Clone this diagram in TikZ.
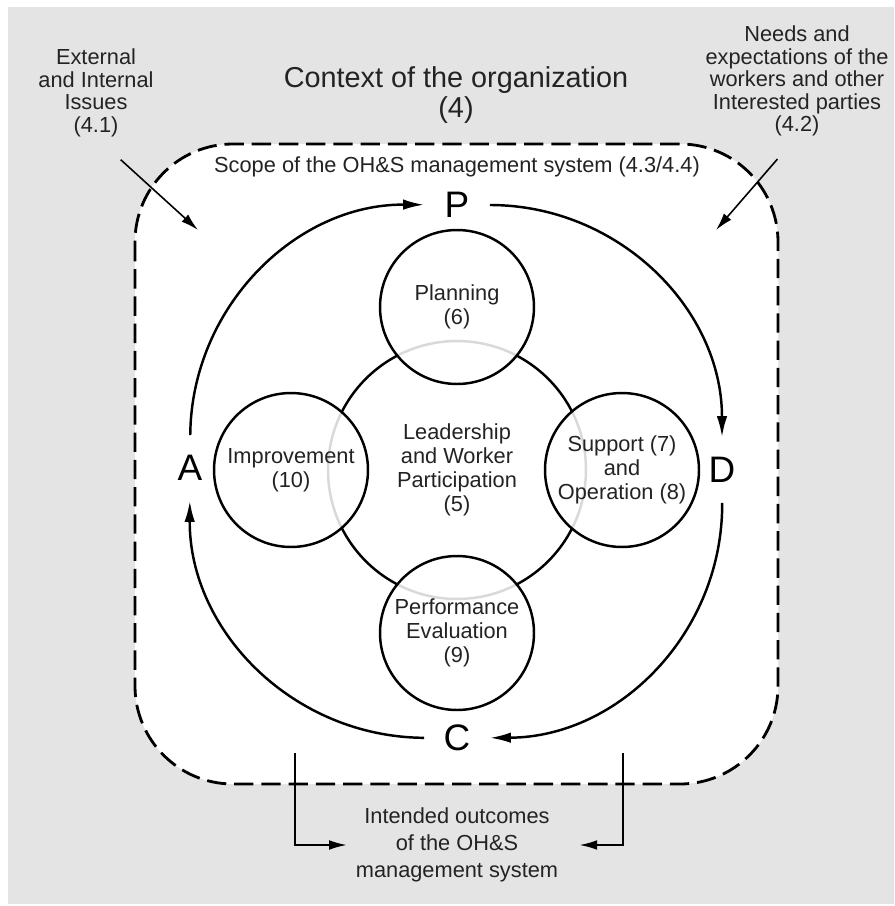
\documentclass[tikz,border=0pt]{standalone}
\usepackage{fontspec}
\setmainfont{Liberation Sans}
\usetikzlibrary{arrows.meta}
\definecolor{bggray}{RGB}{228,228,228}
\definecolor{ink}{RGB}{35,35,35}

\begin{document}
\begin{tikzpicture}[x=0.02cm,y=-0.02cm,
  txt/.style={align=center,text=ink,inner sep=0pt,font=\fontsize{12.4}{12.8}\selectfont},
  ring/.style={circle,draw,line width=1.4pt,align=center,text=ink,inner sep=0pt,font=\fontsize{12.4}{13.6}\selectfont},
  sat/.style={ring,fill=white,fill opacity=0.85,text opacity=1,minimum size=3.08cm},
  pdca/.style={font=\fontsize{21}{22}\selectfont,minimum width=1.3cm,minimum height=1.3cm,inner sep=0pt},
  cyc/.style={line width=1.4pt,-{Latex[length=12pt,width=6pt]},bend left=45},
  feed/.style={line width=0.9pt,-{Latex[length=10pt,width=5.5pt]}}]
\useasboundingbox (0,0) rectangle (894,906);
\fill[white] (0,0) rectangle (894,906);
\fill[bggray] (8,7) rectangle (894,904);
% scope of the system
\draw[line width=1.6pt,dash pattern=on 11pt off 4.5pt,rounded corners=1.96cm,fill=white] (135,144) rectangle (778,784);
\node[txt] (scope) at (457,167) {Scope of the OH\&S management system (4.3/4.4)};
\node[txt,font=\fontsize{16.4}{17}\selectfont] (ctx) at (456,95) {Context of the organization\\(4)};
\node[txt] (ext) at (96,93) {External\\and Internal\\Issues\\(4.1)};
\node[txt] (needs) at (797,81) {Needs and\\expectations of the\\workers and other\\Interested parties\\(4.2)};
\coordinate (extin) at (198,230);
\coordinate (needin) at (716,230);
\draw[feed,shorten <=19pt] (ext.south) -- (extin);
\draw[feed,shorten <=17pt] (needs.south) -- (needin);
% the five clauses
\node[ring,minimum size=5.16cm] (lead) at (457,470) {Leadership\\and Worker\\Participation\\(5)};
\node[sat] (plan) at (457,307) {Planning\\(6)};
\node[sat] (impr) at (291,470) {Improvement\\(10)};
\node[sat] (supp) at (622,470) {Support (7)\\and\\Operation (8)};
\node[sat] (perf) at (457,633) {Performance\\Evaluation\\(9)};
% plan do check act
\node[pdca] (P) at (457,205) {P};
\node[pdca] (D) at (722,470) {D};
\node[pdca] (C) at (457,738) {C};
\node[pdca] (A) at (190,468) {A};
\draw[cyc] (A) to (P);
\draw[cyc] (P) to (D);
\draw[cyc] (D) to (C);
\draw[cyc] (C) to (A);
% outcomes
\node[txt,font=\fontsize{12.4}{15.3}\selectfont] (outc) at (457,845) {Intended outcomes\\of the OH\&S\\management system};
\coordinate (outl) at (295,753);
\coordinate (outr) at (623,753);
\draw[feed,shorten >=5pt] (outl) |- (outc.west);
\draw[feed,shorten >=12pt] (outr) |- (outc.east);
\end{tikzpicture}
\end{document}
